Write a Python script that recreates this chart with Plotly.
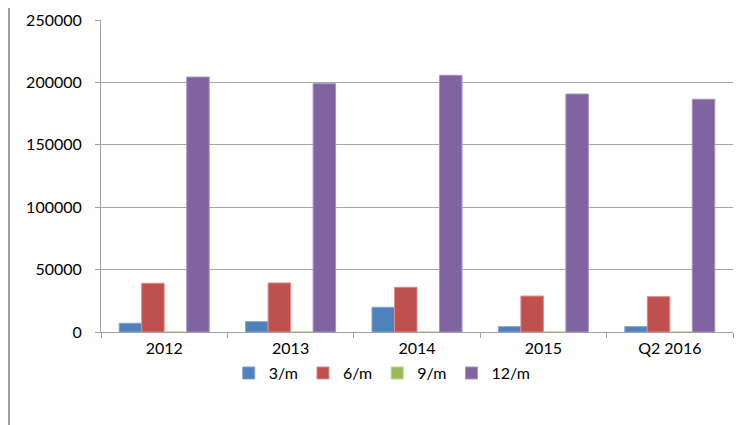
import plotly.graph_objects as go

categories = ["2012", "2013", "2014", "2015", "Q2 2016"]
series_names = ["3/m", "6/m", "9/m", "12/m"]
s3 = [7000, 8300, 19800, 4300, 4300]
s6 = [39000, 39300, 35800, 28800, 28300]
s9 = [0, 0, 0, 0, 0]
s12 = [204300, 199000, 205700, 190700, 186500]
y_ticks = [0, 50000, 100000, 150000, 200000, 250000]

colors = ["#4F81BD", "#C0504D", "#9BBB59", "#8064A2"]
edges = ["#7FA3D3", "#DE8A87", "#BDD68A", "#A892C4"]

fig = go.Figure()
for name, vals, c, e in zip(series_names, [s3, s6, s9, s12], colors, edges):
    fig.add_trace(go.Bar(x=categories, y=vals, name=name,
                         marker=dict(color=c, line=dict(color=e, width=1))))

font = dict(family="Lato, Open Sans, sans-serif", size=16, color="#000000")
fig.update_layout(
    width=749, height=425,
    margin=dict(l=93, r=24, t=12, b=101, autoexpand=False),
    paper_bgcolor="white", plot_bgcolor="white",
    barmode="group", bargap=0.288, bargroupgap=0,
    font=font,
    showlegend=True,
    legend=dict(orientation="h", x=0.445, xanchor="center",
                yref="container", y=0.181, yanchor="top",
                bgcolor="rgba(0,0,0,0)",
                font=dict(size=16), itemwidth=30, traceorder="normal"),
    xaxis=dict(showline=True, linecolor="#A0A0A0", linewidth=1,
               ticks="outside", tickson="boundaries", ticklen=5, tickcolor="#A0A0A0",
               showgrid=False, automargin=False, ticklabelstandoff=2),
    yaxis=dict(range=[0, 250000], tickvals=y_ticks, ticktext=[str(v) for v in y_ticks],
               showline=True, linecolor="#A0A0A0", linewidth=1,
               ticks="outside", ticklen=5, tickcolor="#A0A0A0",
               gridcolor="#A6A6A6", gridwidth=1, zeroline=False,
               automargin=False, ticklabelstandoff=10),
    shapes=[dict(type="line", xref="paper", yref="paper",
                 x0=-0.1456, x1=-0.1456, y0=-0.4, y1=1.2,
                 line=dict(color="#A0A0A0", width=2))],
)
fig.write_html("out.html")
